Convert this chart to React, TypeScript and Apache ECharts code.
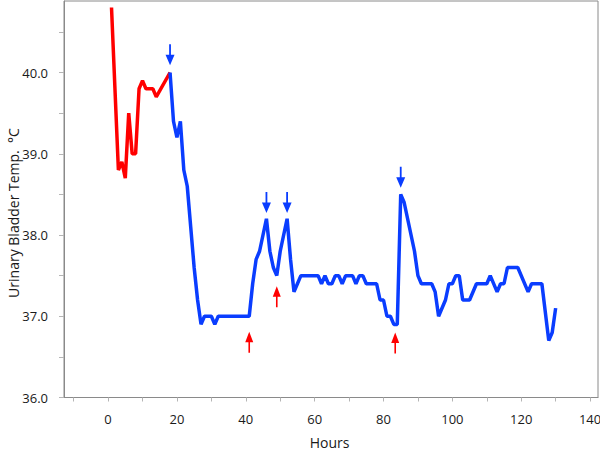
import React, { useEffect, useRef } from "react";
import * as echarts from "echarts";

// Red segment (before treatment)
const redHours = [1, 3, 4, 5, 6, 7, 8, 9, 10, 11, 13, 14, 18];
const redTemps = [40.8, 38.8, 38.9, 38.7, 39.5, 39.0, 39.0, 39.8, 39.9, 39.8, 39.8, 39.7, 40.0];

// Blue segment
const blueHours = [
  18, 19, 20, 21, 22, 23, 24, 25, 26, 27, 28, 30, 31, 32, 41, 42, 43, 44, 46, 47, 48, 49, 50,
  52, 53, 54, 55, 56, 61, 62, 63, 64, 65, 66, 67, 68, 69, 71, 72, 73, 74, 75, 78, 79, 80, 81,
  82, 83, 84, 85, 86, 89, 90, 91, 94, 95, 96, 98, 99, 100, 101, 102, 103, 105, 107, 110, 111,
  113, 114, 115, 116, 119, 122, 123, 126, 128, 129, 130,
];
const blueTemps = [
  40.0, 39.4, 39.2, 39.4, 38.8, 38.6, 38.1, 37.6, 37.2, 36.9, 37.0, 37.0, 36.9, 37.0, 37.0, 37.4,
  37.7, 37.8, 38.2, 37.8, 37.6, 37.5, 37.8, 38.2, 37.7, 37.3, 37.4, 37.5, 37.5, 37.4, 37.5, 37.4,
  37.4, 37.5, 37.5, 37.4, 37.5, 37.5, 37.4, 37.5, 37.5, 37.4, 37.4, 37.2, 37.2, 37.0, 37.0, 36.9,
  36.9, 38.5, 38.4, 37.8, 37.5, 37.4, 37.4, 37.3, 37.0, 37.2, 37.4, 37.4, 37.5, 37.5, 37.2, 37.2,
  37.4, 37.4, 37.5, 37.3, 37.4, 37.4, 37.6, 37.6, 37.3, 37.4, 37.4, 36.7, 36.8, 37.1,
];

// Arrow markers (center positions)
const blueArrowHours = [18, 46, 52, 85];
const blueArrowTemps = [40.22, 38.4, 38.4, 38.71];
const redArrowHours = [41, 49, 83.4];
const redArrowTemps = [36.68, 37.24, 36.67];

// Axis ticks / labels
const xTickValues = [-10, 0, 10, 20, 30, 40, 50, 60, 70, 80, 90, 100, 110, 120, 130, 140];
const xLabelValues = [0, 20, 40, 60, 80, 100, 120, 140];
const yTickValues = [36, 36.5, 37, 37.5, 38, 38.5, 39, 39.5, 40, 40.5];
const yLabelValues = [36, 37, 38, 39, 40];

const RED = "#ff0000";
const BLUE = "#0a3dff";
const FONT = "Open Sans";

const downArrow = "path://M4,0 L6,0 L6,11 L10,11 L5,22 L0,11 L4,11 Z";
const upArrow = "path://M5,0 L10,11 L6,11 L6,22 L4,22 L4,11 L0,11 Z";

export default function App() {
  const ref = useRef<HTMLDivElement>(null);

  useEffect(() => {
    if (!ref.current) return;
    const chart = echarts.init(ref.current, null, { renderer: "svg" });
    chart.setOption({
      animation: false,
      backgroundColor: "#ffffff",
      grid: {
        left: 64,
        right: 2,
        top: 1,
        bottom: 54.5,
        show: true,
        borderColor: "#8a8a8a",
        borderWidth: 1,
        containLabel: false,
        outerBoundsMode: "none",
      },
      xAxis: {
        type: "value",
        min: -12.8,
        max: 142.3,
        splitLine: { show: false },
        axisLine: { show: true, onZero: false, lineStyle: { color: "#8a8a8a", width: 1 } },
        axisTick: {
          show: true,
          customValues: xTickValues,
          length: 4,
          lineStyle: { color: "#b5b5b5" },
        },
        axisLabel: {
          customValues: xLabelValues,
          margin: 15,
          color: "#1a1a1a",
          fontFamily: FONT,
          fontSize: 13,
        },
      },
      yAxis: {
        type: "value",
        min: 36,
        max: 40.88,
        splitLine: { show: false },
        axisLine: { show: true, onZero: false, lineStyle: { color: "#8a8a8a", width: 1 } },
        axisTick: {
          show: true,
          customValues: yTickValues,
          length: 5,
          lineStyle: { color: "#b5b5b5" },
        },
        axisLabel: {
          customValues: yLabelValues,
          margin: 16,
          color: "#1a1a1a",
          fontFamily: FONT,
          fontSize: 13,
          formatter: (v: number) => v.toFixed(1),
        },
      },
      graphic: [
        {
          type: "text",
          x: 13,
          y: 213,
          rotation: Math.PI / 2,
          style: {
            text: "Urinary Bladder Temp.  °C",
            fill: "#1a1a1a",
            font: `14px "${FONT}"`,
            textAlign: "center",
            textVerticalAlign: "middle",
          },
        },
        {
          type: "text",
          x: 329.5,
          y: 442,
          style: {
            text: "Hours",
            fill: "#1a1a1a",
            font: `14px "${FONT}"`,
            textAlign: "center",
            textVerticalAlign: "middle",
          },
        },
      ],
      series: [
        {
          type: "line",
          data: redHours.map((h, i) => [h, redTemps[i]]),
          showSymbol: false,
          lineStyle: { color: RED, width: 3.5 },
          z: 3,
        },
        {
          type: "line",
          data: blueHours.map((h, i) => [h, blueTemps[i]]),
          showSymbol: false,
          lineStyle: { color: BLUE, width: 3.5 },
          z: 3,
        },
        {
          type: "scatter",
          data: blueArrowHours.map((h, i) => [h, blueArrowTemps[i]]),
          symbol: downArrow,
          symbolSize: [9, 21],
          itemStyle: { color: BLUE, opacity: 1 },
          z: 4,
        },
        {
          type: "scatter",
          data: redArrowHours.map((h, i) => [h, redArrowTemps[i]]),
          symbol: upArrow,
          symbolSize: [8, 21],
          itemStyle: { color: RED, opacity: 1 },
          z: 4,
        },
      ],
    });
    return () => chart.dispose();
  }, []);

  return <div ref={ref} style={{ width: 600, height: 452, position: "absolute", left: 0, top: 0 }} />;
}
